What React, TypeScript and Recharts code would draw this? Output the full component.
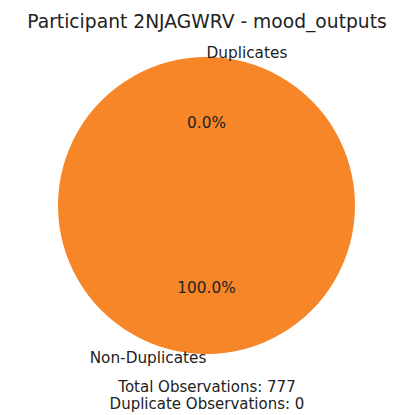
import React from 'react';
import { PieChart, Pie, Cell } from 'recharts';

const categories = ['Duplicates', 'Non-Duplicates'];
const counts = [0, 777];
const totalObservations = 777;
const duplicateObservations = 0;

const sliceColor = '#f68628';
const font = '"DejaVu Sans", sans-serif';

const RADIAN = Math.PI / 180;

const renderLabel = (props: any) => {
  const { cx, cy, midAngle, outerRadius, index, percent } = props;
  const cos = Math.cos(-midAngle * RADIAN);
  const sin = Math.sin(-midAngle * RADIAN);
  // outer name label
  const nx = cx + (outerRadius + 4) * cos;
  const ny = cy + (outerRadius + 4) * sin;
  // inner percentage
  const px = cx + outerRadius * 0.555 * cos;
  const py = cy + outerRadius * 0.555 * sin;
  // matplotlib-style: left half right aligned, right half left aligned
  const anchor = index === 0 ? 'start' : 'end';
  return (
    <g>
      <text x={nx} y={ny} textAnchor={anchor} dominantBaseline="central" fontFamily={font} fontSize={15.3} fill="#222">
        {categories[index]}
      </text>
      <text x={px} y={py} textAnchor="middle" dominantBaseline="central" fontFamily={font} fontSize={15.3} fill="#222">
        {((percent || 0) * 100).toFixed(1)}%
      </text>
    </g>
  );
};

export default function App() {
  const data = categories.map((name, i) => ({ name, value: counts[i] }));
  return (
    <div style={{ position: 'absolute', left: 0, top: 0, width: 408, height: 415, background: '#fff', overflow: 'hidden' }}>
      <div
        style={{
          position: 'absolute',
          left: 0,
          top: 10,
          width: 414,
          textAlign: 'center',
          fontFamily: font,
          fontSize: 18.7,
          color: '#222',
          lineHeight: '24px',
        }}
      >
        Participant 2NJAGWRV - mood_outputs
      </div>
      <PieChart
        width={408}
        height={415}
        margin={{ top: 0, right: 0, bottom: 0, left: 0 }}
        style={{ position: 'absolute', left: 0, top: 0 }}
      >
        <Pie
          data={data}
          dataKey="value"
          nameKey="name"
          cx={206.5}
          cy={205.5}
          outerRadius={148.5}
          startAngle={90}
          endAngle={450}
          stroke="none"
          label={renderLabel}
          labelLine={false}
          isAnimationActive={false}
        >
          {data.map((d, i) => (
            <Cell key={d.name} fill={i === 0 ? '#1f77b4' : sliceColor} />
          ))}
        </Pie>
      </PieChart>
      <div
        style={{
          position: 'absolute',
          left: 0,
          top: 379,
          width: 414,
          textAlign: 'center',
          fontFamily: font,
          fontSize: 15,
          color: '#222',
          lineHeight: '17px',
        }}
      >
        <div>Total Observations: {totalObservations}</div>
        <div>Duplicate Observations: {duplicateObservations}</div>
      </div>
    </div>
  );
}
